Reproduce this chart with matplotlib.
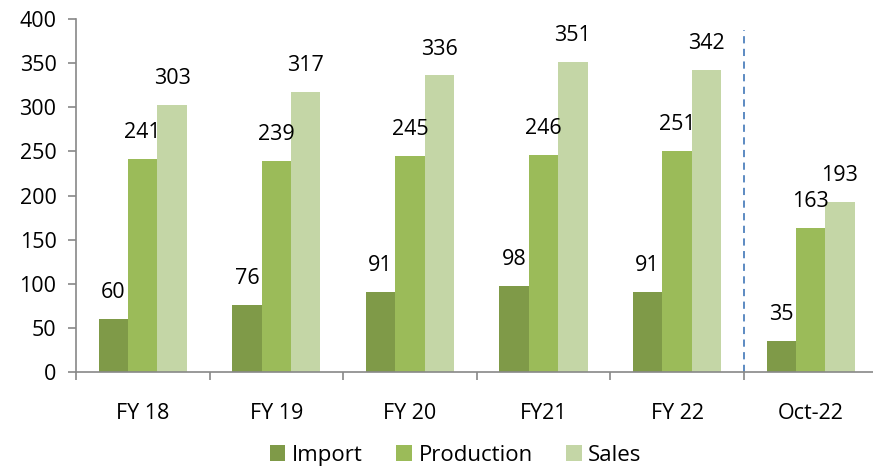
import matplotlib.pyplot as plt
import numpy as np

# data
categories = ['FY 18', 'FY 19', 'FY 20', 'FY21', 'FY 22', 'Oct-22']
import_vals = [60, 76, 91, 98, 91, 35]
production_vals = [241, 239, 245, 246, 251, 163]
sales_vals = [303, 317, 336, 351, 342, 193]

plt.rcParams['font.family'] = ['Open Sans', 'DejaVu Sans']

colors = ['#7f9a48', '#9bbb59', '#c4d6a6']
names = ['Import', 'Production', 'Sales']

fig = plt.figure(figsize=(8.73, 4.73), dpi=100)
ax = fig.add_axes([0.087, 0.2135, 0.918, 0.7463])

x = np.arange(len(categories))
w = 0.22
series = [import_vals, production_vals, sales_vals]
for i, vals in enumerate(series):
    bars = ax.bar(x + (i - 1) * w, vals, w, color=colors[i], label=names[i])
    for j, b in enumerate(bars):
        ax.annotate(str(vals[j]), (b.get_x() + b.get_width() / 2, b.get_height()),
                    xytext=(0, 19), textcoords='offset points',
                    ha='center', va='center', fontsize=15.5, color='black')

ax.set_xlim(-0.5, len(categories) - 0.5)
ax.set_ylim(0, 400)
ax.set_yticks(range(0, 401, 50))
ax.set_xticks(x)
ax.set_xticklabels(categories)
ax.set_xticks(np.arange(-0.5, len(categories)), minor=True)
ax.tick_params(axis='x', which='major', length=0, pad=22, labelsize=15.5)
ax.tick_params(axis='x', which='minor', length=6, color='#888888', width=1.2)
ax.tick_params(axis='y', length=6, color='#888888', width=1.2, labelsize=15.5, pad=8)

for s in ['top', 'right']:
    ax.spines[s].set_visible(False)
for s in ['left', 'bottom']:
    ax.spines[s].set_color('#888888')
    ax.spines[s].set_linewidth(1.2)

ax.plot([4.5, 4.5], [0, 388], linestyle=(0, (4, 3)), color='#4f81bd', linewidth=1.3)

fig.legend(loc='center', bbox_to_anchor=(0.522, 0.037), ncol=3, frameon=False,
           fontsize=16, handlelength=0.7, handleheight=0.7, handletextpad=0.3,
           columnspacing=1.5, borderpad=0.1)

fig.savefig('out.png', dpi=100)
